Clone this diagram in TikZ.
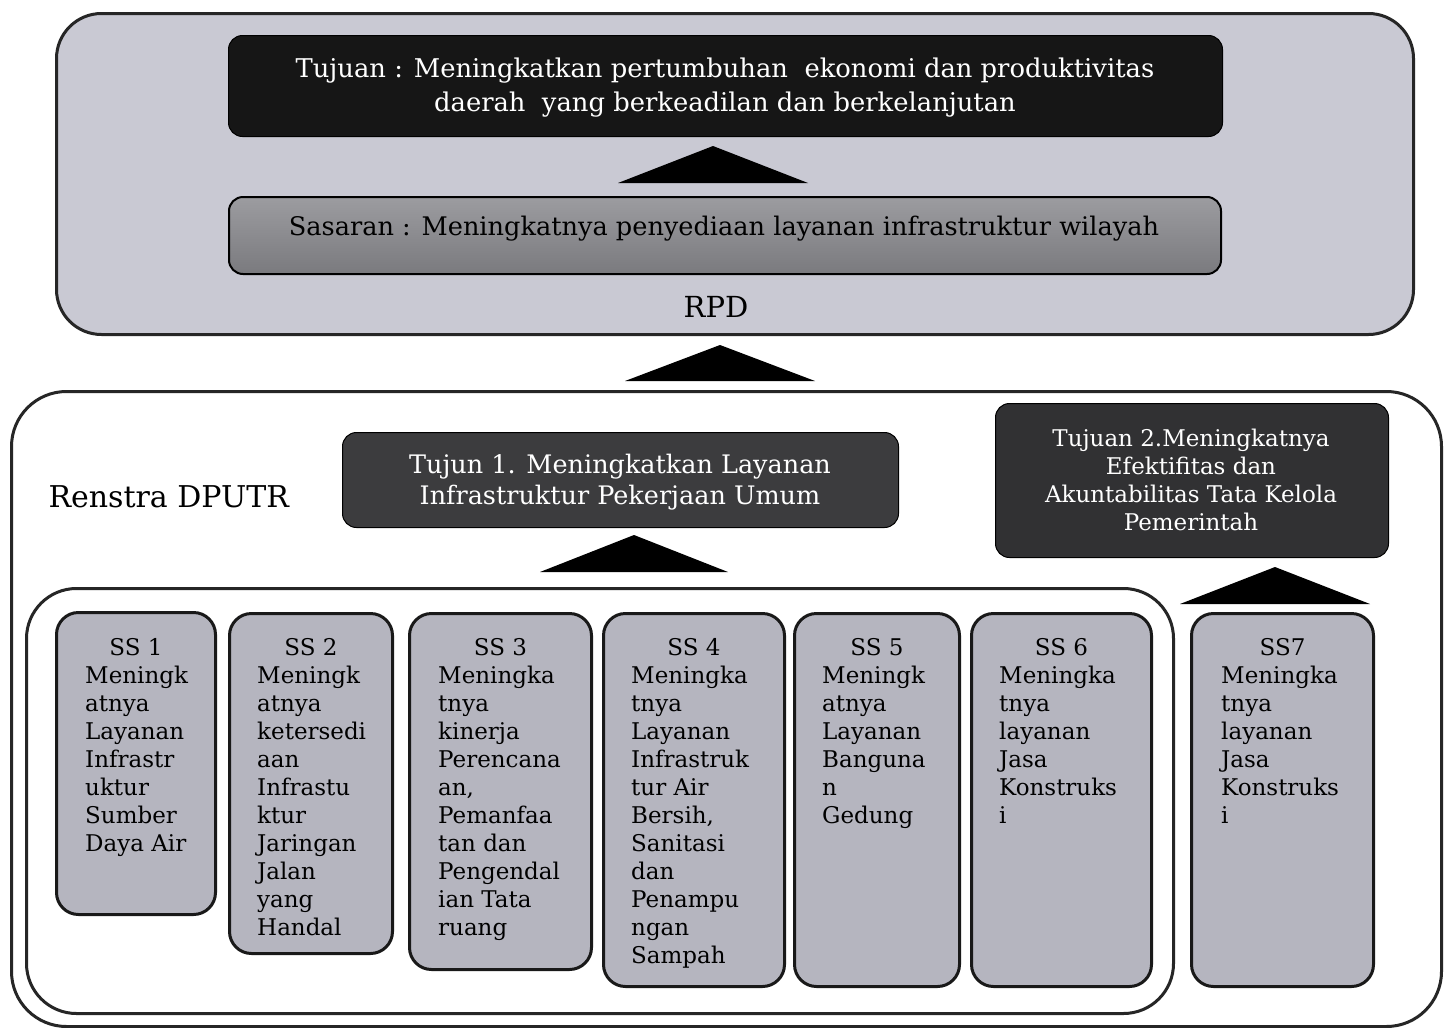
\documentclass[tikz,border=0pt]{standalone}
\usepackage{fontspec}
\setmainfont{DejaVu Serif}
\usetikzlibrary{calc}
\definecolor{panelfill}{HTML}{C9C9D3}
\definecolor{topblack}{HTML}{161616}
\definecolor{sasarantop}{HTML}{9C9CA0}
\definecolor{sasaranbot}{HTML}{7A7A7E}
\definecolor{tujunfill}{HTML}{3C3C3E}
\definecolor{tujuantwo}{HTML}{313133}
\definecolor{ssfill}{HTML}{B5B5BF}
\begin{document}
\begin{tikzpicture}[x=1pt,y=-1pt,
  panel/.style={draw=black!85, line width=3pt, anchor=north west, inner sep=0pt},
  darkbox/.style={draw=black, line width=1pt, rounded corners=14pt, text=white, align=center, anchor=north west, inner sep=0pt},
  ssbox/.style={draw=black!90, line width=3pt, rounded corners=22pt, fill=ssfill, anchor=north west, inner sep=0pt},
  sstitle/.style={anchor=base, inner sep=0pt, font=\fontsize{23}{28}\selectfont},
  sstext/.style={anchor=north west, align=left, inner sep=0pt, font=\fontsize{23}{28}\selectfont},
  tri/.style={fill=black, draw=none}]
\useasboundingbox (0,0) rectangle (1449,1028);
\fill[white] (0,0) rectangle (1449,1028);

% RPD panel
\node[panel, rounded corners=45pt, fill=panelfill, minimum width=1357pt, minimum height=321pt] (rpdpanel) at (55,12) {};
\node[darkbox, fill=topblack, minimum width=994pt, minimum height=101pt] (tujuan) at (228,35) {};
\node[text=white, align=center, font=\fontsize{25.8}{34}\selectfont] (tujuantext) at (725,88) {Tujuan : Meningkatkan pertumbuhan\ \ ekonomi dan produktivitas\\daerah\ \ yang berkeadilan dan berkelanjutan};
\node[draw=black, line width=2pt, rounded corners=14pt, top color=sasarantop, bottom color=sasaranbot, anchor=north west, inner sep=0pt, minimum width=992pt, minimum height=77pt] (sasaran) at (228,196) {};
\node[font=\fontsize{25.6}{34}\selectfont] (sasarantext) at (724,229) {Sasaran : Meningkatnya penyediaan layanan infrastruktur wilayah};
\node[font=\fontsize{29}{34}\selectfont] (rpd) at (716,307) {RPD};
\fill[tri] (713,146) -- (808,183) -- (618,183) -- cycle;

% arrow between panels
\fill[tri] (720,345) -- (815,381) -- (625,381) -- cycle;

% Renstra panel
\node[panel, rounded corners=55pt, fill=white, minimum width=1430pt, minimum height=635pt] (renstra) at (10,390) {};
\node[panel, rounded corners=50pt, fill=white, minimum width=1147pt, minimum height=425pt] (sscontainer) at (25,587) {};
\node[anchor=west, font=\fontsize{30}{34}\selectfont] (renstratext) at (45,497) {Renstra DPUTR};

\node[darkbox, fill=tujunfill, minimum width=556pt, minimum height=95pt] (tujun1) at (342,432) {};
\node[text=white, align=center, font=\fontsize{25.5}{31}\selectfont] (tujun1text) at (620,482) {Tujun 1. Meningkatkan Layanan\\Infrastruktur Pekerjaan Umum};
\fill[tri] (634,535) -- (728,572) -- (540,572) -- cycle;

\node[darkbox, fill=tujuantwo, minimum width=393pt, minimum height=154pt] (tujuan2) at (995,403) {};
\node[text=white, align=center, font=\fontsize{23}{28}\selectfont] (tujuan2text) at (1191,480) {Tujuan 2.Meningkatnya\\Efektifitas dan\\Akuntabilitas Tata Kelola\\Pemerintah};
\fill[tri] (1275,567) -- (1370,604) -- (1180,604) -- cycle;

% SS boxes
\node[ssbox, minimum width=159pt, minimum height=302pt] (ss1) at (55,611) {};
\node[ssbox, minimum width=163pt, minimum height=340pt] (ss2) at (228,612) {};
\node[ssbox, minimum width=182pt, minimum height=356pt] (ss3) at (408,612) {};
\node[ssbox, minimum width=181pt, minimum height=373pt] (ss4) at (602,612) {};
\node[ssbox, minimum width=165pt, minimum height=373pt] (ss5) at (793,612) {};
\node[ssbox, minimum width=180pt, minimum height=373pt] (ss6) at (970,612) {};
\node[ssbox, minimum width=182pt, minimum height=373pt] (ss7) at (1190,612) {};

\node[sstitle] (ss1t) at (ss1.north |- 0,655) {SS 1};
\node[sstitle] (ss2t) at (ss2.north |- 0,655) {SS 2};
\node[sstitle] (ss3t) at (ss3.north |- 0,655) {SS 3};
\node[sstitle] (ss4t) at (ss4.north |- 0,655) {SS 4};
\node[sstitle] (ss5t) at (ss5.north |- 0,655) {SS 5};
\node[sstitle] (ss6t) at (ss6.north |- 0,655) {SS 6};
\node[sstitle] (ss7t) at (ss7.north |- 0,655) {SS7};

\node[sstext] (ss1b) at (85,666) {Meningk\\atnya\\Layanan\\Infrastr\\uktur\\Sumber\\Daya Air};
\node[sstext] (ss2b) at (257,666) {Meningk\\atnya\\ketersedi\\aan\\Infrastu\\ktur\\Jaringan\\Jalan\\yang\\Handal};
\node[sstext] (ss3b) at (438,666) {Meningka\\tnya\\kinerja\\Perencana\\an,\\Pemanfaa\\tan dan\\Pengendal\\ian Tata\\ruang};
\node[sstext] (ss4b) at (631,666) {Meningka\\tnya\\Layanan\\Infrastruk\\tur Air\\Bersih,\\Sanitasi\\dan\\Penampu\\ngan\\Sampah};
\node[sstext] (ss5b) at (822,666) {Meningk\\atnya\\Layanan\\Banguna\\n\\Gedung};
\node[sstext] (ss6b) at (999,666) {Meningka\\tnya\\layanan\\Jasa\\Konstruks\\i};
\node[sstext] (ss7b) at (1221,666) {Meningka\\tnya\\layanan\\Jasa\\Konstruks\\i};
\end{tikzpicture}
\end{document}
